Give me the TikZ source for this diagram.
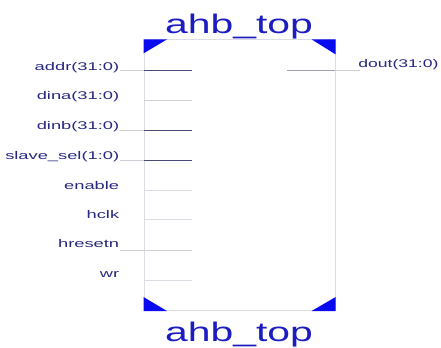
\documentclass[tikz,border=0pt]{standalone}
\usepackage{fontspec}
\setmainfont{Liberation Sans}
\definecolor{lblblue}{HTML}{28287F}
\definecolor{ttlblue}{HTML}{1C1CC0}
\definecolor{triblue}{HTML}{0A0AF0}
\definecolor{boxgray}{HTML}{DCDCE4}
\definecolor{wirelight}{HTML}{CFCFD8}
\definecolor{wiredark}{HTML}{4A4A78}
\definecolor{wiremid}{HTML}{A0A0B8}
\begin{document}
\begin{tikzpicture}[x=1bp,y=1bp,
  pinlbl/.style={font=\fontsize{11.2}{11}\selectfont, text=lblblue, inner sep=0pt, xscale=1.64, transform shape},
  ttl/.style={font=\fontsize{27}{27}\selectfont, text=ttlblue, inner sep=0pt, xscale=1.52, transform shape, anchor=base},
  corner/.style={fill=triblue, draw=none},
  outw/.style={draw=wirelight, line width=0.7bp},
  inw/.style={draw=#1, line width=0.8bp}]
\useasboundingbox (0,0) rectangle (441,347);
% block
\node[draw=boxgray, line width=0.6bp, minimum width=191.5bp, minimum height=271bp, inner sep=0pt, anchor=south west] (blk) at (143.5,36) {};
% titles
\node[ttl] (ttop) at (239,314) {ahb\_top};
\node[ttl] (tbot) at (239,6) {ahb\_top};
% corner marks
\fill[corner] (blk.north west) -- ++(23.5,0) -- ++(-23.5,-14) -- cycle;
\fill[corner] (blk.north east) -- ++(-24,0) -- ++(24,-15) -- cycle;
\fill[corner] (blk.south west) -- ++(23.5,0) -- ++(-23.5,14) -- cycle;
\fill[corner] (blk.south east) -- ++(-24,0) -- ++(24,14) -- cycle;
% left pins
\foreach \nm/\txt/\by/\wy/\col/\outer in {
  addr/{addr(31:0)}/277/277/wiredark/1,
  dina/{dina(31:0)}/248/247/wirelight/0,
  dinb/{dinb(31:0)}/218/217/wiredark/1,
  slv/{slave\_sel(1:0)}/188/187/wiredark/1,
  ena/{enable}/158/157/boxgray/0,
  hclk/{hclk}/129/128/boxgray/0,
  hrst/{hresetn}/100/97/wirelight/1,
  wr/{wr}/70/67/boxgray/0}{
  \node[pinlbl, anchor=base east] (\nm) at (119.5,\by) {\txt};
  \coordinate (\nm o) at (120,\wy);
  \coordinate (\nm e) at (143.5,\wy);
  \coordinate (\nm i) at (192,\wy);
  \ifnum\outer=1 \draw[outw] (\nm o) -- (\nm e); \fi
  \draw[inw=\col] (\nm e) -- (\nm i);
}
% right pin
\node[pinlbl, anchor=base west, xscale=0.96] (dout) at (358,280) {dout(31:0)};
\coordinate (douti) at (287,277);
\coordinate (doute) at (335,277);
\coordinate (douto) at (360,277);
\draw[inw=wiremid] (douti) -- (doute);
\draw[outw] (doute) -- (douto);
\end{tikzpicture}
\end{document}
